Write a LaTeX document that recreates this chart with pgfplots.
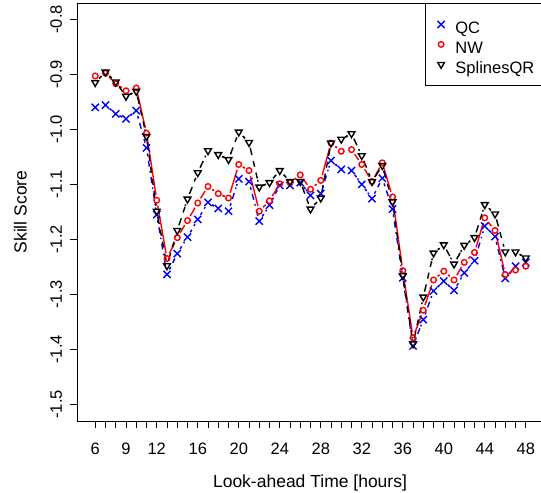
\documentclass[border=0pt]{standalone}
\usepackage{fontspec}
\setmainfont{Liberation Sans}
\usepackage{pgfplots}
\usepackage{pgfplotstable}
\usetikzlibrary{arrows.meta}
\pgfplotsset{compat=1.18}

\definecolor{qcblue}{RGB}{0,0,255}
\definecolor{nwred}{RGB}{255,0,0}

% Skill score against look-ahead time, one table per method
\pgfplotstableread{
x y
6 -0.960
7 -0.956
8 -0.972
9 -0.981
10 -0.966
11 -1.034
12 -1.155
13 -1.264
14 -1.226
15 -1.196
16 -1.164
17 -1.133
18 -1.144
19 -1.149
20 -1.090
21 -1.095
22 -1.167
23 -1.138
24 -1.102
25 -1.102
26 -1.097
27 -1.120
28 -1.117
29 -1.057
30 -1.073
31 -1.075
32 -1.100
33 -1.126
34 -1.089
35 -1.145
36 -1.270
37 -1.394
38 -1.346
39 -1.294
40 -1.276
41 -1.293
42 -1.261
43 -1.239
44 -1.176
45 -1.195
46 -1.271
47 -1.249
48 -1.242
}\qcdata

\pgfplotstableread{
x y
6 -0.903
7 -0.898
8 -0.917
9 -0.930
10 -0.925
11 -1.007
12 -1.129
13 -1.235
14 -1.197
15 -1.166
16 -1.134
17 -1.104
18 -1.117
19 -1.125
20 -1.064
21 -1.075
22 -1.149
23 -1.130
24 -1.099
25 -1.097
26 -1.083
27 -1.109
28 -1.093
29 -1.025
30 -1.040
31 -1.037
32 -1.064
33 -1.095
34 -1.061
35 -1.123
36 -1.257
37 -1.379
38 -1.329
39 -1.274
40 -1.258
41 -1.274
42 -1.242
43 -1.224
44 -1.161
45 -1.184
46 -1.264
47 -1.256
48 -1.249
}\nwdata

\pgfplotstableread{
x y
6 -0.915
7 -0.896
8 -0.914
9 -0.940
10 -0.931
11 -1.013
12 -1.149
13 -1.248
14 -1.184
15 -1.127
16 -1.079
17 -1.039
18 -1.046
19 -1.055
20 -1.005
21 -1.024
22 -1.105
23 -1.097
24 -1.075
25 -1.095
26 -1.095
27 -1.145
28 -1.125
29 -1.025
30 -1.018
31 -1.008
32 -1.048
33 -1.095
34 -1.066
35 -1.132
36 -1.266
37 -1.390
38 -1.305
39 -1.225
40 -1.210
41 -1.245
42 -1.211
43 -1.197
44 -1.137
45 -1.154
46 -1.223
47 -1.223
48 -1.234
}\sqrdata

% Connect neighbouring hours with separate segments that stop short of the
% symbols; a segment is left out when the two symbols nearly touch.
\pgfplotsset{
  seg/.style={forget plot, line width=1.4bp,
    arrows={Butt Cap[]-Butt Cap[]},
    shorten <=5.5bp, shorten >=5.5bp},
  seg qc/.style={seg, qcblue, dash pattern=on 1.5bp off 4.5bp on 6bp off 4.5bp},
  seg nw/.style={seg, nwred, solid},
  seg sqr/.style={seg, black, dash pattern=on 6bp off 6bp},
}
\newcommand\gappedsegments[2]{%
  \pgfplotstablegetrowsof{#1}%
  \pgfmathtruncatemacro\lastseg{\pgfplotsretval-2}%
  \pgfplotsforeachungrouped \i in {0,...,\lastseg}{%
    \pgfmathtruncatemacro\j{\i+1}%
    \pgfplotstablegetelem{\i}{x}\of{#1}\let\xa\pgfplotsretval
    \pgfplotstablegetelem{\i}{y}\of{#1}\let\ya\pgfplotsretval
    \pgfplotstablegetelem{\j}{x}\of{#1}\let\xb\pgfplotsretval
    \pgfplotstablegetelem{\j}{y}\of{#1}\let\yb\pgfplotsretval
    \pgfmathtruncatemacro\keep{abs(\yb-(\ya))>0.0072}%
    \ifnum\keep=1
      \edef\doseg{\noexpand\addplot[#2] coordinates {(\xa,\ya) (\xb,\yb)};}%
      \doseg
    \fi
  }%
}

\begin{document}
\begin{tikzpicture}
\useasboundingbox (0,0) rectangle (541bp,493bp);
\begin{axis}[
  at={(77bp,72bp)}, anchor=south west,
  scale only axis, width=466bp, height=418bp,
  xmin=4.22, xmax=49.68, ymin=-1.5304, ymax=-0.7704,
  axis line style={line width=0.8bp, black},
  tick style={line width=0.8bp, black},
  tick align=outside,
  xtick pos=bottom, ytick pos=left,
  major tick length=7bp, minor tick length=7bp,
  xtick={6,9,12,16,20,24,28,32,36,40,44,48},
  xticklabels={6,9,12,16,20,24,28,32,36,40,44,48},
  minor xtick={6,7,...,48},
  ytick={-1.5,-1.4,-1.3,-1.2,-1.1,-1.0,-0.9,-0.8},
  yticklabels={-1.5,-1.4,-1.3,-1.2,-1.1,-1.0,-0.9,-0.8},
  ticklabel style={font=\fontsize{16.5bp}{19bp}\selectfont},
  xticklabel style={anchor=base, inner sep=0bp, yshift=-26bp},
  yticklabel style={xshift=-8bp, rotate=90, anchor=base, inner sep=0bp},
  label style={font=\fontsize{17.5bp}{21bp}\selectfont},
  xlabel={Look-ahead Time [hours]},
  ylabel={Skill Score},
  xlabel style={at={(axis description cs:0.5,-0.158)}, anchor=base, inner sep=0bp},
  ylabel style={at={(axis description cs:-0.108,0.5)}, anchor=base, inner sep=0bp},
  legend style={at={(rel axis cs:0.7468,1)}, anchor=north west,
    draw=black, line width=0.8bp, fill=white,
    font=\fontsize{16.5bp}{19bp}\selectfont,
    inner xsep=8bp, inner ysep=12.4bp, row sep=2.8bp, column sep=0bp,
    nodes={inner sep=0bp, text height=17.2bp, text depth=0bp}},
  legend cell align=left,
  legend image code/.code={
    \path[draw=none, fill=none] (-7.7bp,0bp) -- (14.3bp,0bp);
    \draw[#1] plot coordinates {(0bp,0bp)};},
]

% QC: blue crosses, dot-dash segments
\gappedsegments{\qcdata}{seg qc}
\addplot[only marks, qcblue, mark=x, mark size=5.1bp, line width=1.4bp]
  table[x=x, y=y] {\qcdata};
\addlegendentry{QC}

% NW: red circles, solid segments
\gappedsegments{\nwdata}{seg nw}
\addplot[only marks, nwred, mark=o, mark size=2.8bp, line width=1.4bp]
  table[x=x, y=y] {\nwdata};
\addlegendentry{NW}

% SplinesQR: black downward triangles, dashed segments
\gappedsegments{\sqrdata}{seg sqr}
\addplot[only marks, black, mark=triangle, mark size=3.9bp,
  mark options={rotate=180}, line width=1.4bp]
  table[x=x, y=y] {\sqrdata};
\addlegendentry{SplinesQR}

\end{axis}
\end{tikzpicture}
\end{document}
